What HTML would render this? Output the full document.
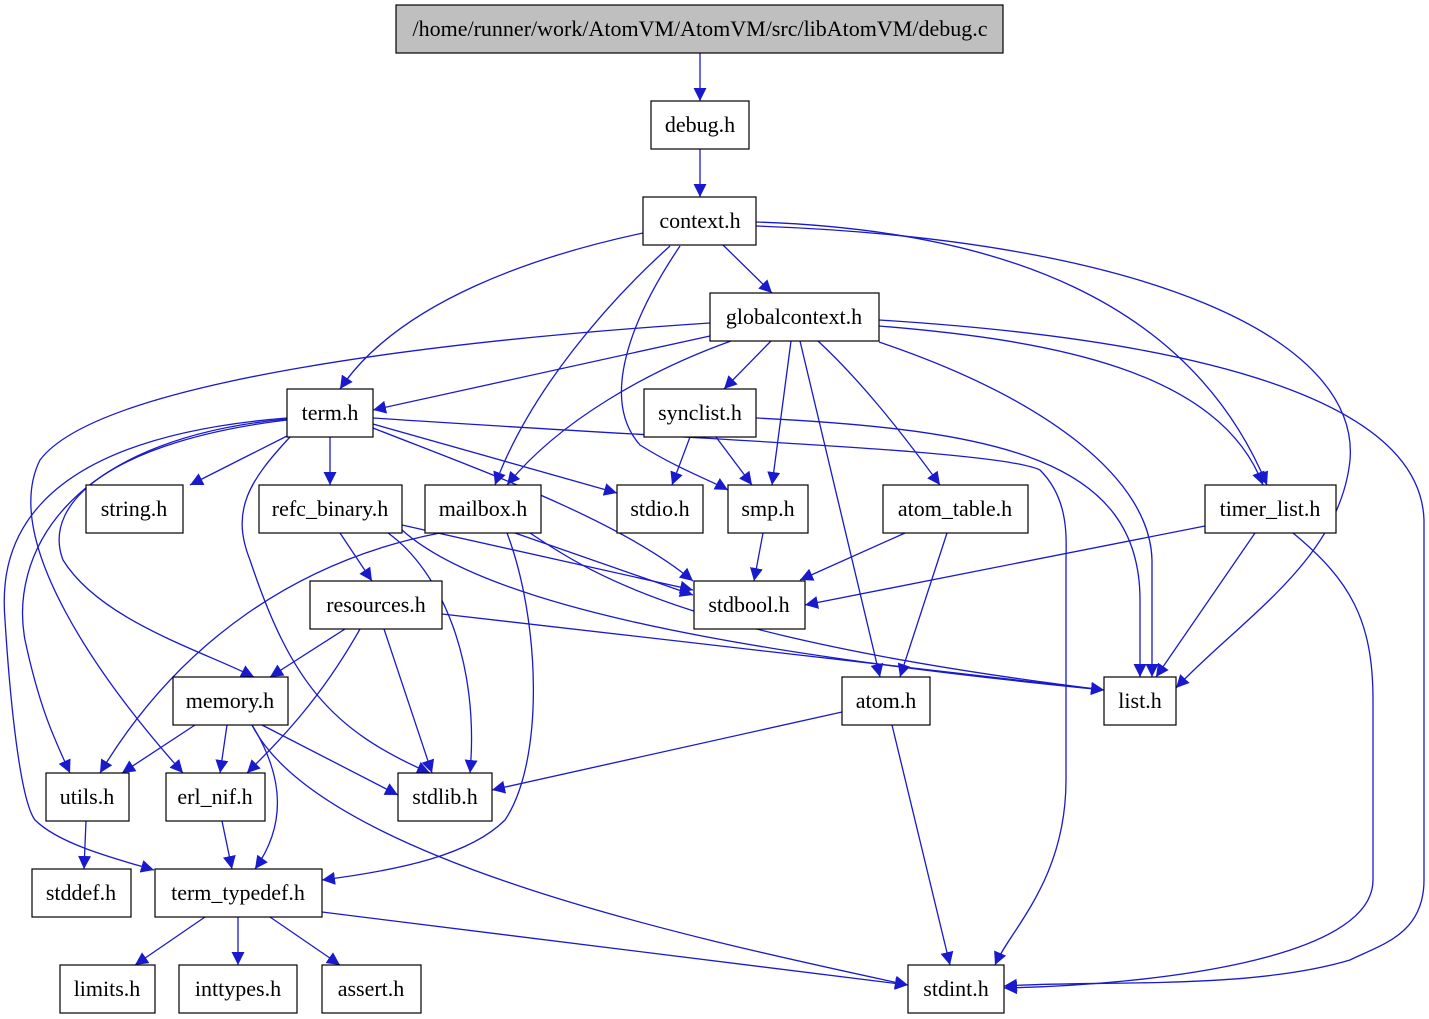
<!DOCTYPE html>
<html><head><meta charset="utf-8"><style>
html,body{margin:0;padding:0;background:#fff;}
svg{display:block;}
text{font-family:"Liberation Serif",serif;font-size:22px;fill:#000;}
</style></head><body>
<svg width="1429" height="1019" viewBox="0 0 1429 1019" xmlns="http://www.w3.org/2000/svg">
<defs><marker id="a" viewBox="0 0 10 10" refX="10" refY="5" markerWidth="13" markerHeight="13" markerUnits="userSpaceOnUse" orient="auto"><path d="M0,0L10,5L0,10z" fill="#1919cd"/></marker></defs>
<g fill="none" stroke="#1919cd" stroke-width="1.3" marker-end="url(#a)">
<path d="M700,53L700,101"/>
<path d="M700,149L700,197"/>
<path d="M723,245L772,293"/>
<path d="M643,233C540,255 400,300 340,389"/>
<path d="M670,246C610,300 530,390 495,485"/>
<path d="M680,246C630,320 600,400 640,445C680,470 710,480 728,490"/>
<path d="M756,222C1000,230 1190,300 1267,485"/>
<path d="M756,226C1150,240 1360,340 1350,460C1340,560 1240,620 1176,688"/>
<path d="M710,336L373,410"/>
<path d="M710,323C450,340 100,380 40,460C0,540 100,680 183,773"/>
<path d="M731,341C650,370 560,420 507,485"/>
<path d="M771,341L724,389"/>
<path d="M791,341L772,485"/>
<path d="M818,341C860,380 900,430 940,485"/>
<path d="M800,341L880,677"/>
<path d="M879,342C1050,400 1150,480 1152,560L1152,677"/>
<path d="M879,326C1050,340 1220,370 1263,485"/>
<path d="M879,320C1200,340 1420,400 1424,520L1424,880C1424,935 1380,945 1350,960C1250,990 1100,980 1004,986"/>
<path d="M690,437L672,485"/>
<path d="M716,437L752,485"/>
<path d="M756,418C1000,430 1140,460 1140,600L1140,677"/>
<path d="M287,436L190,485"/>
<path d="M330,437L330,485"/>
<path d="M373,424L617,493"/>
<path d="M373,428C480,470 620,520 693,581"/>
<path d="M290,437C250,480 230,510 250,560C290,680 330,730 430,773"/>
<path d="M287,420C120,440 40,500 63,560C100,620 200,650 254,677"/>
<path d="M287,419C60,440 10,560 25,640C40,710 55,740 70,773"/>
<path d="M287,418C10,440 0,560 5,620C10,700 20,800 35,820C60,845 120,860 154,870"/>
<path d="M373,418C700,440 1000,450 1040,470C1070,500 1066,540 1066,560L1066,780C1066,880 1010,930 995,965"/>
<path d="M440,533C300,560 180,640 100,773"/>
<path d="M507,533C540,620 545,760 505,820C470,855 400,870 322,880"/>
<path d="M515,533L693,595"/>
<path d="M530,533C600,580 700,640 1104,690"/>
<path d="M340,533L372,581"/>
<path d="M402,525L693,590"/>
<path d="M388,533C440,570 480,660 470,773"/>
<path d="M402,530C480,600 700,650 1104,690"/>
<path d="M345,629L270,677"/>
<path d="M360,629C320,700 280,740 247,773"/>
<path d="M384,629L432,773"/>
<path d="M442,614L1104,690"/>
<path d="M763,533L754,581"/>
<path d="M905,533L800,580"/>
<path d="M947,533L900,677"/>
<path d="M1205,526L805,605"/>
<path d="M1255,533L1156,677"/>
<path d="M1293,533C1350,580 1373,620 1373,700L1373,880C1373,960 1150,985 1004,988"/>
<path d="M195,725L122,773"/>
<path d="M227,725L220,773"/>
<path d="M262,725L398,795"/>
<path d="M252,725C280,770 290,820 255,869"/>
<path d="M252,725C320,860 700,940 908,985"/>
<path d="M842,712L492,790"/>
<path d="M892,725L950,965"/>
<path d="M86,821L84,869"/>
<path d="M222,821L232,869"/>
<path d="M205,917L135,965"/>
<path d="M238,917L238,965"/>
<path d="M270,917L340,965"/>
<path d="M322,912L908,985"/>
</g>
<g stroke="#000" stroke-width="1.2" fill="#fff">
<rect x="396" y="5" width="607" height="48" fill="#bfbfbf"/>
<rect x="651" y="101" width="98" height="48"/>
<rect x="643" y="197" width="113" height="48"/>
<rect x="710" y="293" width="169" height="48"/>
<rect x="287" y="389" width="86" height="48"/>
<rect x="644" y="389" width="112" height="48"/>
<rect x="86" y="485" width="97" height="48"/>
<rect x="259" y="485" width="143" height="48"/>
<rect x="425" y="485" width="116" height="48"/>
<rect x="617" y="485" width="86" height="48"/>
<rect x="728" y="485" width="80" height="48"/>
<rect x="883" y="485" width="145" height="48"/>
<rect x="1205" y="485" width="131" height="48"/>
<rect x="694" y="581" width="111" height="48"/>
<rect x="310" y="581" width="132" height="48"/>
<rect x="173" y="677" width="115" height="48"/>
<rect x="842" y="677" width="88" height="48"/>
<rect x="1104" y="677" width="72" height="48"/>
<rect x="46" y="773" width="83" height="48"/>
<rect x="166" y="773" width="99" height="48"/>
<rect x="398" y="773" width="94" height="48"/>
<rect x="32" y="869" width="99" height="48"/>
<rect x="155" y="869" width="167" height="48"/>
<rect x="60" y="965" width="95" height="48"/>
<rect x="179" y="965" width="118" height="48"/>
<rect x="322" y="965" width="99" height="48"/>
<rect x="908" y="965" width="96" height="48"/>
</g>
<g text-anchor="middle">
<text x="700" y="36">/home/runner/work/AtomVM/AtomVM/src/libAtomVM/debug.c</text>
<text x="700" y="132">debug.h</text>
<text x="700" y="228">context.h</text>
<text x="794" y="324">globalcontext.h</text>
<text x="330" y="420">term.h</text>
<text x="700" y="420">synclist.h</text>
<text x="134" y="516">string.h</text>
<text x="330" y="516">refc_binary.h</text>
<text x="483" y="516">mailbox.h</text>
<text x="660" y="516">stdio.h</text>
<text x="768" y="516">smp.h</text>
<text x="955" y="516">atom_table.h</text>
<text x="1270" y="516">timer_list.h</text>
<text x="749" y="612">stdbool.h</text>
<text x="376" y="612">resources.h</text>
<text x="230" y="708">memory.h</text>
<text x="886" y="708">atom.h</text>
<text x="1140" y="708">list.h</text>
<text x="87" y="804">utils.h</text>
<text x="215" y="804">erl_nif.h</text>
<text x="445" y="804">stdlib.h</text>
<text x="81" y="900">stddef.h</text>
<text x="238" y="900">term_typedef.h</text>
<text x="107" y="996">limits.h</text>
<text x="238" y="996">inttypes.h</text>
<text x="371" y="996">assert.h</text>
<text x="956" y="996">stdint.h</text>
</g>
</svg>
</body></html>
